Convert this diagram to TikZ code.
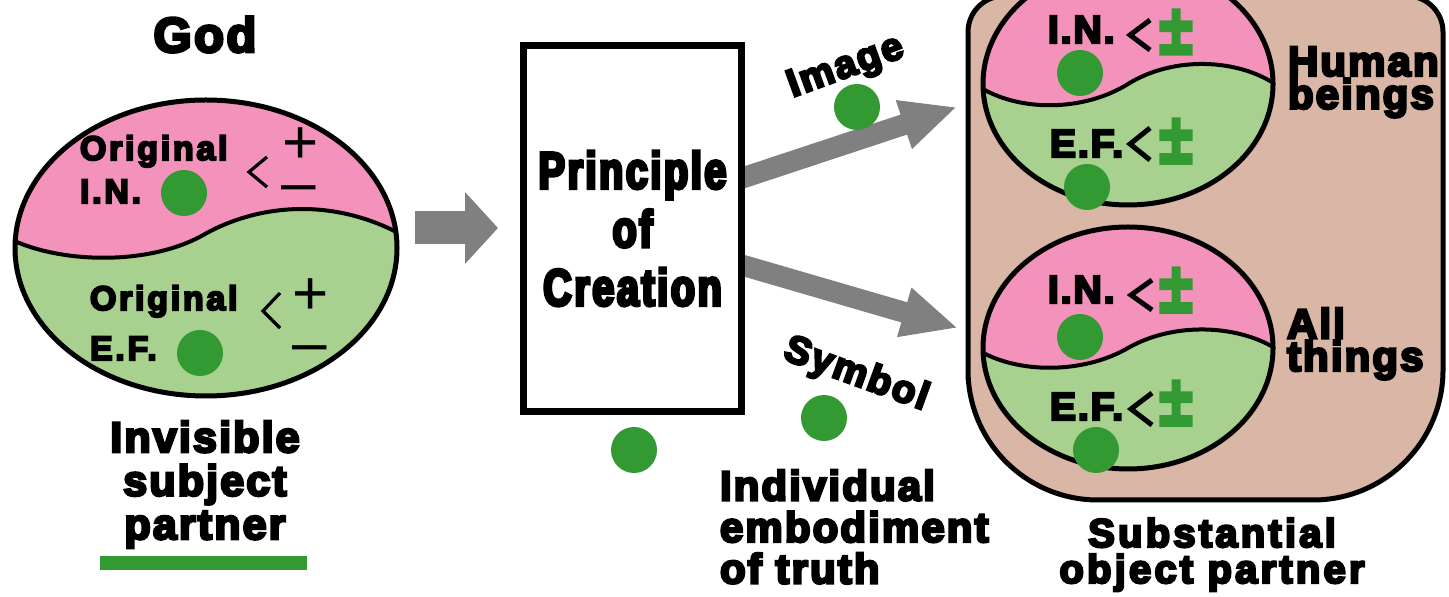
\documentclass[tikz,border=0pt]{standalone}
\usepackage{fontspec}
\newfontfamily\hv{Liberation Sans}[LetterSpace=5,BoldFeatures={FakeBold=6}]
\newfontfamily\hvreg{Liberation Sans}
\newfontfamily\djv{DejaVu Sans}[BoldFeatures={FakeBold=5}]
\usetikzlibrary{arrows.meta}
\newcommand{\hvfont}[2]{\hv\bfseries\fontsize{#1}{#2}\selectfont}
\definecolor{pinkIN}{RGB}{243,146,186}
\definecolor{greenEF}{RGB}{168,208,143}
\definecolor{dotgreen}{RGB}{51,153,51}
\definecolor{tanbg}{RGB}{217,182,165}
\definecolor{arrowgray}{RGB}{128,128,128}
\begin{document}
\begin{tikzpicture}[x=0.5pt,y=-0.5pt,
  txt/.style={inner sep=0pt, outer sep=0pt, text=black},
  gdot/.style={circle, fill=dotgreen, minimum size=23pt, inner sep=0pt},
  outline/.style={draw=black, line width=2.5pt},
  wave/.style={draw=black, line width=2pt},
  chev/.style={draw=black, line width=2.5pt, line join=miter},
  thinchev/.style={draw=black, line width=1.6pt, line join=miter},
  fatarrow/.style={draw=arrowgray, line width=10.5pt, -{Triangle[length=28pt,width=23.5pt]}},
  bigarrow/.style={draw=arrowgray, line width=16.5pt, -{Triangle[length=16.5pt,width=35pt]}},
  intext/.style={txt, anchor=base west, font=\hvfont{17}{17}\addfontfeatures{LetterSpace=8}},
  rtext/.style={txt, anchor=base west, font=\hvfont{19.5}{19.5}},
  pm/.style={txt, anchor=base, text=dotgreen, font=\djv\bfseries\fontsize{35}{35}\selectfont\addfontfeatures{FakeStretch=0.68}},
  plus/.style={txt, anchor=base, font=\hvreg\fontsize{31}{31}\selectfont}
]
\useasboundingbox (0,0) rectangle (1449,597);
\fill[white] (0,0) rectangle (1449,597);

% ---------- God ----------
\node[txt, anchor=base, font=\hvfont{24.5}{24.5}] (god) at (205,52) {God};

\begin{scope}
  \clip (206,248) ellipse [x radius=191, y radius=148];
  \fill[pinkIN] (0,80) rectangle (420,420);
  \fill[greenEF] (8,238) .. controls (60,264) and (150,266) .. (205,234)
     .. controls (255,206) and (330,195) .. (404,236) -- (404,420) -- (8,420) -- cycle;
  \draw[wave] (8,238) .. controls (60,264) and (150,266) .. (205,234)
     .. controls (255,206) and (330,195) .. (404,236);
\end{scope}
\draw[outline] (206,248) ellipse [x radius=191, y radius=148];

\node[intext] (oin1) at (80,160) {Original};
\node[intext] (oin2) at (80,203) {I.N.};
\node[gdot] (d1) at (184,193) {};
\draw[thinchev] (267,157) -- (249,172) -- (267,187);
\node[plus] (p1) at (301,164) {+};
\node[plus] (m1) at (299,204) {–};

\node[intext] (oef1) at (90,310) {Original};
\node[intext] (oef2) at (90,360) {E.F.};
\node[gdot] (d2) at (200,353) {};
\draw[thinchev] (280,293) -- (263,311) -- (280,328);
\node[plus] (p2) at (311,315) {+};
\node[plus] (m2) at (310,364) {–};

\node[txt, anchor=north, align=center, font=\hvfont{21.5}{21.75}] (isp) at (205,421) {Invisible\\subject\\partner};
\fill[dotgreen] (100,556) rectangle (307,570);

% ---------- arrows ----------
\coordinate (la) at (415,228);
\coordinate (lb) at (498,228);
\draw[bigarrow] (la) -- (lb);
\coordinate (ia) at (697,193);
\coordinate (ib) at (957,107);
\draw[fatarrow] (ia) -- (ib);
\coordinate (sa) at (697,252);
\coordinate (sb) at (958,328);
\draw[fatarrow] (sa) -- (sb);

% ---------- Principle of Creation ----------
\node[draw=black, line width=3.5pt, fill=white, minimum width=109pt, minimum height=183pt,
  inner sep=0pt, align=center, font=\hvfont{26}{29.25}\addfontfeatures{FakeStretch=0.76}] (poc) at (632.5,228.5) {Principle\\of\\Creation};
\node[gdot] (d4) at (634,450) {};

\node[txt, rotate=20, font=\hvfont{19.5}{19.5}] (img) at (846,68) {Image};
\node[gdot] (d3) at (857,107) {};
\node[txt, rotate=-20, font=\hvfont{19.5}{19.5}] (sym) at (856,375) {Symbol};
\node[gdot] (d5) at (824,418) {};
\node[txt, anchor=north west, align=left, font=\hvfont{21}{20.75}] (iet) at (720,470) {Individual\\embodiment\\of truth};

% ---------- right panel ----------
\draw[outline, fill=tanbg] (968,250) [rounded corners=18pt] -- (968,-4) -- (1443,-4) -- (1443,200)
  [rounded corners=65pt] -- (1443,500) -- (968,500) -- cycle;

\begin{scope}[shift={(1128,84)}]
  \begin{scope}
    \clip (0,0) ellipse [x radius=145, y radius=121];
    \fill[pinkIN] (-150,-130) rectangle (150,130);
    \fill[greenEF] (-150,2) .. controls (-110,28) and (-45,28) .. (0,0)
      .. controls (45,-28) and (110,-26) .. (150,2) -- (150,130) -- (-150,130) -- cycle;
    \draw[wave] (-150,2) .. controls (-110,28) and (-45,28) .. (0,0)
      .. controls (45,-28) and (110,-26) .. (150,2);
  \end{scope}
  \draw[outline] (0,0) ellipse [x radius=145, y radius=121];
\end{scope}
\node[rtext] (hin) at (1048,43) {I.N.};
\draw[chev] (1150,20) -- (1130,35) -- (1150,50);
\node[pm] (hpm1) at (1176,54) {±};
\node[gdot] (d6) at (1080,73) {};
\node[rtext] (hef) at (1050,157) {E.F.};
\draw[chev] (1150,128) -- (1130,144) -- (1150,160);
\node[pm] (hpm2) at (1176,163) {±};
\node[gdot] (d7) at (1087,187) {};
\node[txt, anchor=north west, align=left, font=\hvfont{21}{15}] (hb) at (1288,47) {Human\\beings};

\begin{scope}[shift={(1128,348)}]
  \begin{scope}
    \clip (0,0) ellipse [x radius=145, y radius=121];
    \fill[pinkIN] (-150,-130) rectangle (150,130);
    \fill[greenEF] (-150,2) .. controls (-110,26) and (-45,26) .. (0,0)
      .. controls (45,-26) and (110,-24) .. (150,2) -- (150,130) -- (-150,130) -- cycle;
    \draw[wave] (-150,2) .. controls (-110,26) and (-45,26) .. (0,0)
      .. controls (45,-26) and (110,-24) .. (150,2);
  \end{scope}
  \draw[outline] (0,0) ellipse [x radius=145, y radius=121];
\end{scope}
\node[rtext] (ain) at (1048,303) {I.N.};
\draw[chev] (1152,280) -- (1131,295) -- (1152,310);
\node[pm] (apm1) at (1176,312) {±};
\node[gdot] (d8) at (1080,337) {};
\node[rtext] (aef) at (1050,420) {E.F.};
\draw[chev] (1152,393) -- (1131,409) -- (1152,425);
\node[pm] (apm2) at (1176,425) {±};
\node[gdot] (d9) at (1096,450) {};
\node[txt, anchor=north west, align=left, font=\hvfont{21}{15}] (at) at (1287,308) {All\\things};

\node[txt, anchor=north, align=center, font=\hvfont{20}{18}\addfontfeatures{LetterSpace=8}] (sop) at (1212,518) {Substantial\\object partner};
\end{tikzpicture}
\end{document}
